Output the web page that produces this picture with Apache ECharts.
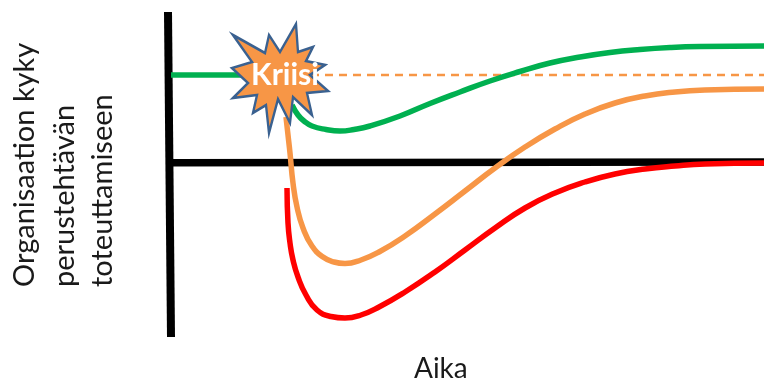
<!DOCTYPE html>
<html>
<head>
<meta charset="utf-8">
<style>
  html, body { margin: 0; padding: 0; background: #fff; }
  #chart { width: 764px; height: 380px; }
</style>
<script src="https://cdn.jsdelivr.net/npm/echarts@6/dist/echarts.min.js"></script>
</head>
<body>
<div id="chart"></div>
<script>
// x = aika, y = kyky (0 = musta perustaso)
var greenBefore = [[0, 87], [80, 87]];
var greenAfter = [[121, 57], [127, 47], [133, 41], [141, 36], [155, 32.5], [169, 31], [183, 32.5], [199, 36], [229, 46], [259, 58.5], [289, 70], [319, 81], [349, 90.5], [379, 99], [409, 105], [439, 109.5], [469, 112.5], [499, 114.5], [529, 115.5], [593, 116]];
var orangeCurve = [[115, 45], [117, 27], [119, 9], [122, -21], [126, -45], [132, -66], [141, -84], [152, -95], [163, -100], [174, -101.5], [190, -98], [208, -90], [234, -74], [264, -52], [294, -29], [324, -6], [354, 15], [384, 33], [414, 48], [444, 59], [474, 66], [504, 70], [534, 72], [593, 73]];
var redCurve = [[116, -26], [117, -61], [119, -81], [122, -98], [127, -115], [135, -133], [146, -148], [160, -154.5], [174, -156], [190, -153], [208, -145], [234, -130], [264, -110], [294, -88], [324, -66], [354, -46], [384, -31], [414, -20], [444, -12], [474, -7], [504, -4], [534, -2], [593, -1]];
var dashedLevel = [[140, 87], [593, 87]];
var verticalAxis = [[-3, 150], [0, -175]];
var horizontalAxis = [[0, -0.7], [593, 0]];
var crisisPoint = [[109, 83.5]];
var crisisLabel = 'Kriisi';
var yTitleLines = ['Organisaation kyky', 'perustehtävän', 'toteuttamiseen'];
var xTitle = 'Aika';

var starPath = 'path://M233 35L265 53L269 35L280 52L296 24L298 52L313 47L306 61L325 65L310 75L328 91L307 93L312 115L293 97L290 123L278 99L269 133L266 105L253 113L257 95L233 98L248 83L232 68L252 62Z';

function line(data, color, width, z, smooth, type) {
  return {
    type: 'line',
    data: data,
    z: z,
    smooth: smooth ? 0.5 : false,
    symbol: 'none',
    clip: false,
    lineStyle: { color: color, width: width, type: type || 'solid', cap: 'butt' }
  };
}

function titleText(text, left, top, rotation, size) {
  return {
    type: 'text',
    x: left,
    y: top,
    rotation: rotation,
    style: { text: text, font: '400 ' + size + 'px Lato', fill: '#1a1a1a', align: 'left', verticalAlign: 'middle' }
  };
}

var chart = echarts.init(document.getElementById('chart'), null, { renderer: 'canvas' });
chart.setOption({
  animation: false,
  backgroundColor: '#fff',
  grid: { left: 0, right: 0, top: 0, bottom: 0 },
  xAxis: { type: 'value', min: -171, max: 593, show: false },
  yAxis: { type: 'value', min: -218, max: 162, show: false },
  series: [
    line(verticalAxis, '#000', 8, 1),
    line(horizontalAxis, '#000', 7.5, 1),
    line(dashedLevel, '#f79646', 2.5, 2, false, [8, 6]),
    line(greenBefore, '#00b050', 5.5, 3),
    line(greenAfter, '#00b050', 5.5, 3, true),
    line(redCurve, '#ff0000', 5.5, 4, true),
    line(orangeCurve, '#f79646', 5.5, 5, true),
    {
      type: 'scatter',
      data: crisisPoint,
      z: 6,
      symbol: starPath,
      symbolSize: [96, 109],
      clip: false,
      itemStyle: { color: '#f79646', borderColor: '#3a6190', borderWidth: 2.5, opacity: 1 },
      label: {
        show: true,
        position: 'inside',
        offset: [5, -3],
        formatter: crisisLabel,
        color: '#fff',
        fontFamily: 'Lato',
        fontWeight: 'bold',
        fontSize: 30
      }
    }
  ],
  graphic: [
    titleText(yTitleLines[0], 25, 287, Math.PI / 2, 29),
    titleText(yTitleLines[1], 65, 287, Math.PI / 2, 29),
    titleText(yTitleLines[2], 103, 287, Math.PI / 2, 29),
    titleText(xTitle, 414, 369, 0, 28)
  ]
});
</script>
</body>
</html>
